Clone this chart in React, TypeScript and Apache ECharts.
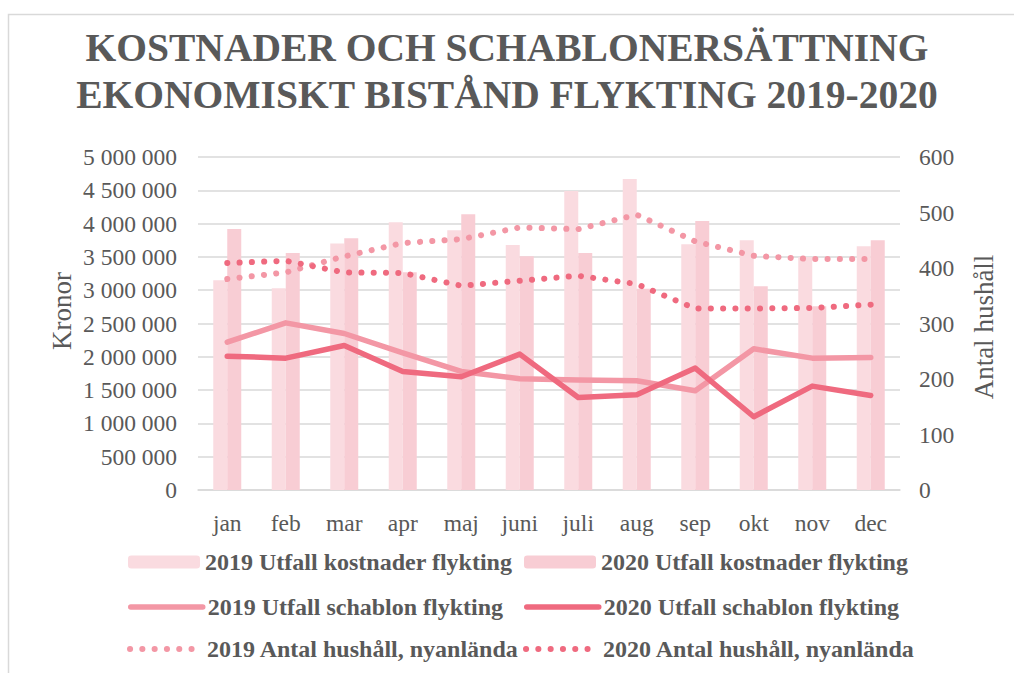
import React, { useEffect, useRef } from "react";
import * as echarts from "echarts";

const months = ["jan", "feb", "mar", "apr", "maj", "juni", "juli", "aug", "sep", "okt", "nov", "dec"];

const kostnader2019 = [3150000, 3030000, 3700000, 4020000, 3900000, 3680000, 4490000, 4670000, 3690000, 3750000, 3500000, 3660000];
const kostnader2020 = [3920000, 3560000, 3780000, 3270000, 4140000, 3510000, 3560000, 3020000, 4040000, 3060000, 2760000, 3750000];
const schablon2019 = [2220000, 2510000, 2350000, 2060000, 1780000, 1670000, 1650000, 1640000, 1490000, 2120000, 1980000, 1990000];
const schablon2020 = [2010000, 1980000, 2170000, 1780000, 1700000, 2040000, 1390000, 1430000, 1830000, 1100000, 1560000, 1420000];
const hushall2019 = [380, 392, 421, 445, 452, 473, 470, 496, 448, 422, 416, 416];
const hushall2020 = [409, 413, 392, 391, 368, 377, 386, 371, 327, 327, 328, 334];

const names = [
  "2019 Utfall kostnader flykting",
  "2020 Utfall kostnader flykting",
  "2019 Utfall schablon flykting",
  "2020 Utfall schablon flykting",
  "2019 Antal hushåll, nyanlända",
  "2020 Antal hushåll, nyanlända",
];

const FONT = '"Liberation Serif", "Times New Roman", serif';
const TEXT = "#595959";
const GRID = "#d9d9d9";
const C_BAR19 = "#FADBE0";
const C_BAR20 = "#F8CDD4";
const C_L19 = "#F397A5";
const C_L20 = "#EF6A7F";

const fmt = (v: number) => String(v).replace(/\B(?=(\d{3})+(?!\d))/g, " ");

export default function App() {
  const ref = useRef<HTMLDivElement>(null);
  useEffect(() => {
    if (!ref.current) return;
    const chart = echarts.init(ref.current, undefined, { renderer: "svg" });
    const legendText = { fontFamily: FONT, fontWeight: "bold", fontSize: 24, color: TEXT };
    const legendPos = [
      { left: 128, top: 550 },
      { left: 524, top: 550 },
      { left: 128, top: 595 },
      { left: 524, top: 595 },
      { left: 127, top: 637 },
      { left: 523, top: 637 },
    ];
    const legends = names.map((n, i) => ({
      data: [i < 2 ? { name: n } : { name: n, itemStyle: { opacity: 0 } }],
      left: legendPos[i].left,
      top: legendPos[i].top,
      padding: 0,
      itemWidth: 72,
      itemHeight: 13,
      selectedMode: false,
      textStyle: legendText,
      lineStyle: i >= 2 ? { width: i >= 4 ? 6 : 5.5 } : undefined,
    }));
    const dotted = [0.1, 12.2];
    chart.setOption({
      animation: false,
      title: {
        text: "KOSTNADER OCH SCHABLONERSÄTTNING\nEKONOMISKT BISTÅND FLYKTING 2019-2020",
        left: "center",
        top: 24,
        padding: [0, 0, 0, 26],
        textStyle: {
          fontFamily: FONT,
          fontWeight: "bold",
          fontSize: 39.5,
          lineHeight: 47,
          color: TEXT,
        },
      },
      legend: legends,
      grid: { left: 198, right: 114, top: 157, bottom: 183 },
      xAxis: {
        type: "category",
        data: months,
        axisLine: { show: true, lineStyle: { color: GRID, width: 1.5 } },
        axisTick: { show: false },
        axisLabel: { color: TEXT, fontFamily: FONT, fontSize: 23.5, margin: 21 },
      },
      yAxis: [
        {
          type: "value",
          min: 0,
          max: 5000000,
          interval: 500000,
          axisLine: { show: false },
          axisTick: { show: false },
          splitLine: { lineStyle: { color: GRID, width: 1.5 } },
          axisLabel: { color: TEXT, fontFamily: FONT, fontSize: 23.5, margin: 21, formatter: fmt },
        },
        {
          type: "value",
          min: 0,
          max: 600,
          interval: 100,
          position: "right",
          axisLine: { show: false },
          axisTick: { show: false },
          splitLine: { show: false },
          axisLabel: { color: TEXT, fontFamily: FONT, fontSize: 23.5, margin: 19 },
        },
      ],
      graphic: [
        {
          type: "rect",
          shape: { x: 8.5, y: 14.5, width: 1100, height: 800 },
          style: { fill: "none", stroke: GRID, lineWidth: 1.5 },
          silent: true,
          z: -10,
        },
        {
          type: "text",
          x: 62,
          y: 311,
          rotation: Math.PI / 2,
          style: {
            text: "Kronor",
            fontFamily: FONT,
            fontSize: 27,
            fill: TEXT,
            textAlign: "center",
            textVerticalAlign: "middle",
          },
        },
        {
          type: "text",
          x: 984,
          y: 327,
          rotation: Math.PI / 2,
          style: {
            text: "Antal hushåll",
            fontFamily: FONT,
            fontSize: 27,
            fill: TEXT,
            textAlign: "center",
            textVerticalAlign: "middle",
          },
        },
      ],
      series: [
        {
          name: names[0],
          type: "bar",
          data: kostnader2019,
          barWidth: 14,
          barGap: "0%",
          itemStyle: { color: C_BAR19 },
        },
        {
          name: names[1],
          type: "bar",
          data: kostnader2020,
          barWidth: 14,
          barGap: "0%",
          itemStyle: { color: C_BAR20 },
        },
        {
          name: names[2],
          type: "line",
          data: schablon2019,
          symbol: "none",
          lineStyle: { color: C_L19, width: 5.5, cap: "round", join: "round" },
          itemStyle: { color: C_L19 },
        },
        {
          name: names[3],
          type: "line",
          data: schablon2020,
          symbol: "none",
          lineStyle: { color: C_L20, width: 5.5, cap: "round", join: "round" },
          itemStyle: { color: C_L20 },
        },
        {
          name: names[4],
          type: "line",
          yAxisIndex: 1,
          data: hushall2019,
          symbol: "none",
          lineStyle: { color: C_L19, width: 6, type: dotted, cap: "round", join: "round" },
          itemStyle: { color: C_L19 },
        },
        {
          name: names[5],
          type: "line",
          yAxisIndex: 1,
          data: hushall2020,
          symbol: "none",
          lineStyle: { color: C_L20, width: 6, type: dotted, cap: "round", join: "round" },
          itemStyle: { color: C_L20 },
        },
      ],
    });
    return () => chart.dispose();
  }, []);
  return (
    <div
      ref={ref}
      style={{ position: "absolute", left: 0, top: 0, width: 1014, height: 673, background: "#fff" }}
    />
  );
}
